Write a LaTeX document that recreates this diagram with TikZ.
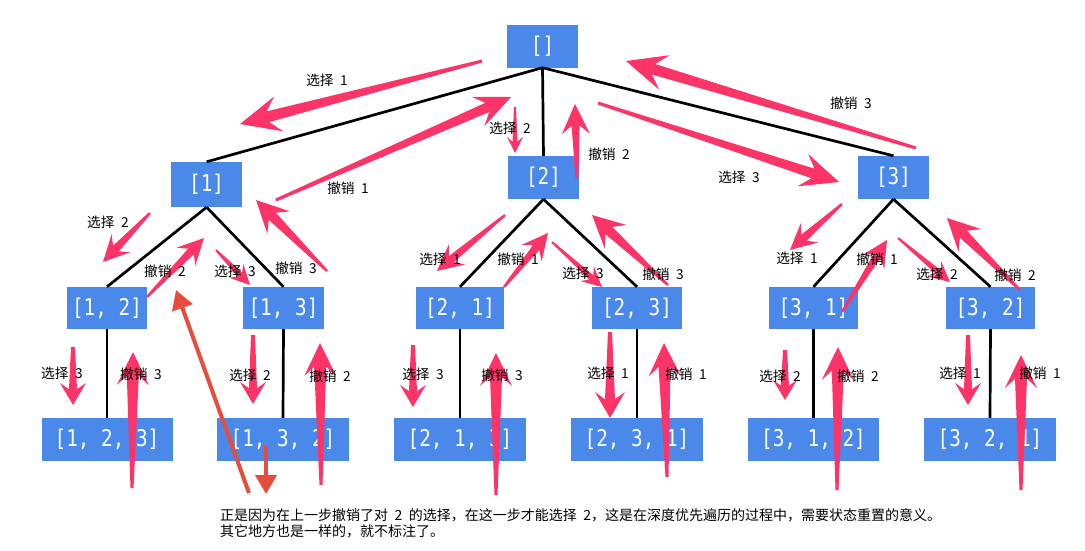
\documentclass[tikz,border=0pt]{standalone}
\usepackage{fontspec}
\setmainfont{Noto Sans CJK SC}
\newfontfamily\boxmono[FakeStretch=0.84]{DejaVu Sans Mono}
\usetikzlibrary{calc,arrows.meta}
\definecolor{boxblue}{RGB}{74,137,234}
\definecolor{skpink}{RGB}{252,52,104}
\definecolor{annred}{RGB}{231,76,60}
% tapered "skitch" arrow: tail, tip, head length, head half width, neck half width, tail half width
\newcommand\skarrow[6]{%
 \fill[skpink] let \p1=(#1), \p2=(#2), \n1={atan2(\y2-\y1,\x2-\x1)}, \n2={veclen(\x2-\x1,\y2-\y1)} in
  ($(\p1)+({\n1+90}:#6)$) --
  ($(\p1)+(\n1:{\n2-0.72*#3})+({\n1+90}:#5)$) --
  ($(\p1)+(\n1:{\n2-#3})+({\n1+90}:#4)$) --
  (\p2) --
  ($(\p1)+(\n1:{\n2-#3})+({\n1-90}:#4)$) --
  ($(\p1)+(\n1:{\n2-0.72*#3})+({\n1-90}:#5)$) --
  ($(\p1)+({\n1-90}:#6)$) -- cycle;}
\tikzset{
 box/.style={fill=boxblue, text=white, font=\boxmono\fontsize{23}{23}\selectfont, minimum height=43pt, inner sep=0pt},
 lab/.style={font=\fontsize{13.7}{13.7}\selectfont, inner sep=0pt},
 edge/.style={line width=2.7pt, black},
 redarrow/.style={annred, line width=4pt, -{Triangle[length=19pt,width=21pt]}},
}
\begin{document}
\begin{tikzpicture}[x=1pt,y=-1pt]
\fill[white] (0,0) rectangle (1085,550);
\useasboundingbox (0,0) rectangle (1085,550);
% nodes
\node[box, minimum width=71pt] (r) at (542.5,46) {[]};
\node[box, minimum width=71pt, minimum height=45pt] (n1) at (206.6,184.5) {[1]};
\node[box, minimum width=71pt] (n2) at (543.5,177.5) {[2]};
\node[box, minimum width=71pt] (n3) at (893.5,177.5) {[3]};
\node[box, minimum width=80pt, minimum height=42pt] (n12) at (107,308) {[1, 2]};
\node[box, minimum width=81pt, minimum height=42pt] (n13) at (283.5,308) {[1, 3]};
\node[box, minimum width=88pt, minimum height=42pt] (n21) at (460,308) {[2, 1]};
\node[box, minimum width=90pt, minimum height=42pt] (n23) at (637,308) {[2, 3]};
\node[box, minimum width=89pt, minimum height=42pt] (n31) at (813.5,308) {[3, 1]};
\node[box, minimum width=89pt, minimum height=42pt] (n32) at (990.5,308) {[3, 2]};
\node[box, minimum width=131pt] (n123) at (107,439.5) {[1, 2, 3]};
\node[box, minimum width=132pt] (n132) at (283,439.5) {[1, 3, 2]};
\node[box, minimum width=132pt] (n213) at (460,439.5) {[2, 1, 3]};
\node[box, minimum width=132pt] (n231) at (637,439.5) {[2, 3, 1]};
\node[box, minimum width=131pt] (n312) at (813.5,439.5) {[3, 1, 2]};
\node[box, minimum width=132pt] (n321) at (990,439.5) {[3, 2, 1]};
% tree edges
\draw[edge] (r.south) -- (n1.north);
\draw[edge] (r.south) -- (n2.north);
\draw[edge] (r.south) -- (n3.north);
\draw[edge] (n1.south) -- (n12.north);
\draw[edge] (n1.south) -- (n13.north);
\draw[edge] (n2.south) -- (n21.north);
\draw[edge] (n2.south) -- (n23.north);
\draw[edge] (n3.south) -- (n31.north);
\draw[edge] (n3.south) -- (n32.north);
\draw[edge] (n12.south) -- (n123.north);
\draw[edge] (n13.south) -- (n132.north);
\draw[edge] (n21.south) -- (n213.north);
\draw[edge] (n23.south) -- (n231.north);
\draw[edge] (n31.south) -- (n312.north);
\draw[edge] (n32.south) -- (n321.north);
% arrow end points
\coordinate (a1t) at (482,61);   \coordinate (a1h) at (240,124);
\coordinate (a2t) at (276,200);  \coordinate (a2h) at (511,97);
\coordinate (a3t) at (515,107);  \coordinate (a3h) at (515,153);
\coordinate (a4t) at (577,178);  \coordinate (a4h) at (575,104);
\coordinate (a5t) at (598,103);  \coordinate (a5h) at (839,182);
\coordinate (a6t) at (916,148);  \coordinate (a6h) at (626,61);
\coordinate (b1t) at (150,213);  \coordinate (b1h) at (103,262);
\coordinate (b2t) at (147,297);  \coordinate (b2h) at (204,238);
\coordinate (b3t) at (216,250);  \coordinate (b3h) at (250,285);
\coordinate (b4t) at (327,271);  \coordinate (b4h) at (256,200);
\coordinate (c1t) at (505,215);  \coordinate (c1h) at (437,271);
\coordinate (c2t) at (504,287);  \coordinate (c2h) at (548,233);
\coordinate (c3t) at (552,242);  \coordinate (c3h) at (602,287);
\coordinate (c4t) at (668,285);  \coordinate (c4h) at (592,215);
\coordinate (d1t) at (842,204);  \coordinate (d1h) at (790,250);
\coordinate (d2t) at (842,312);  \coordinate (d2h) at (887,240);
\coordinate (d3t) at (898,238);  \coordinate (d3h) at (950,282);
\coordinate (d4t) at (1020,290); \coordinate (d4h) at (947,218);
\coordinate (e1t) at (73,347);   \coordinate (e1h) at (73,405);
\coordinate (e2t) at (132,488);  \coordinate (e2h) at (133,352);
\coordinate (e3t) at (253,335);  \coordinate (e3h) at (253,404);
\coordinate (e4t) at (321,485);  \coordinate (e4h) at (320,343);
\coordinate (e5t) at (413,345);  \coordinate (e5h) at (413,407);
\coordinate (e6t) at (496,495);  \coordinate (e6h) at (496,353);
\coordinate (e7t) at (610,332);  \coordinate (e7h) at (610,418);
\coordinate (e8t) at (667,477);  \coordinate (e8h) at (664,343);
\coordinate (e9t) at (785,350);  \coordinate (e9h) at (785,400);
\coordinate (e10t) at (837,490); \coordinate (e10h) at (838,347);
\coordinate (e11t) at (968,335); \coordinate (e11h) at (968,405);
\coordinate (e12t) at (1021,490);\coordinate (e12h) at (1021,355);
\coordinate (r1t) at (249,493);  \coordinate (r1h) at (176,290);
\coordinate (r2t) at (266,446);  \coordinate (r2h) at (266,494);
% top level arrows
\skarrow{a1t}{a1h}{40pt}{18pt}{5.5pt}{1.5pt}
\skarrow{a2t}{a2h}{36pt}{16pt}{5pt}{1.5pt}
\skarrow{a3t}{a3h}{16pt}{8pt}{2.5pt}{1pt}
\skarrow{a4t}{a4h}{30pt}{14pt}{4pt}{1.5pt}
\skarrow{a5t}{a5h}{38pt}{17pt}{5pt}{1.5pt}
\skarrow{a6t}{a6h}{40pt}{18pt}{5.5pt}{1.5pt}
% level 1 -> 2
\skarrow{b1t}{b1h}{26pt}{13pt}{4pt}{1.2pt}
\skarrow{b2t}{b2h}{26pt}{13pt}{4pt}{1.2pt}
\skarrow{b3t}{b3h}{20pt}{10pt}{3pt}{1pt}
\skarrow{b4t}{b4h}{32pt}{16pt}{5pt}{1.2pt}
\skarrow{c1t}{c1h}{26pt}{13pt}{4pt}{1.2pt}
\skarrow{c2t}{c2h}{26pt}{13pt}{4pt}{1.2pt}
\skarrow{c3t}{c3h}{20pt}{10pt}{3pt}{1pt}
\skarrow{c4t}{c4h}{32pt}{16pt}{5pt}{1.2pt}
\skarrow{d1t}{d1h}{26pt}{13pt}{4pt}{1.2pt}
\skarrow{d2t}{d2h}{26pt}{13pt}{4pt}{1.2pt}
\skarrow{d3t}{d3h}{20pt}{10pt}{3pt}{1pt}
\skarrow{d4t}{d4h}{32pt}{16pt}{5pt}{1.2pt}
% level 2 -> 3
\skarrow{e1t}{e1h}{22pt}{13pt}{4pt}{2pt}
\skarrow{e2t}{e2h}{33pt}{16pt}{6pt}{1.5pt}
\skarrow{e3t}{e3h}{22pt}{13pt}{4pt}{2pt}
\skarrow{e4t}{e4h}{33pt}{16pt}{6pt}{1.5pt}
\skarrow{e5t}{e5h}{22pt}{13pt}{4pt}{2pt}
\skarrow{e6t}{e6h}{33pt}{16pt}{6pt}{1.5pt}
\skarrow{e7t}{e7h}{26pt}{15pt}{5pt}{2pt}
\skarrow{e8t}{e8h}{33pt}{16pt}{6pt}{1.5pt}
\skarrow{e9t}{e9h}{20pt}{12pt}{4pt}{2pt}
\skarrow{e10t}{e10h}{33pt}{16pt}{6pt}{1.5pt}
\skarrow{e11t}{e11h}{22pt}{13pt}{4pt}{2pt}
\skarrow{e12t}{e12h}{33pt}{16pt}{6pt}{1.5pt}
% red annotation arrows
\draw[redarrow] (r1t) -- (r1h);
\draw[redarrow] (r2t) -- (r2h);
% labels
\node[lab] (l1) at (327,80) {选择\hspace{6.5pt}1};
\node[lab] (l2) at (348,188) {撤销\hspace{6.5pt}1};
\node[lab] (l3) at (510,128) {选择\hspace{6.5pt}2};
\node[lab] (l4) at (609,154) {撤销\hspace{6.5pt}2};
\node[lab] (l5) at (739,177) {选择\hspace{6.5pt}3};
\node[lab] (l6) at (851,103) {撤销\hspace{6.5pt}3};
\node[lab] (l7) at (108,222) {选择\hspace{6.5pt}2};
\node[lab] (l8) at (165,271) {撤销\hspace{6.5pt}2};
\node[lab] (l9) at (235,271) {选择\hspace{6.5pt}3};
\node[lab] (l10) at (296,268) {撤销\hspace{6.5pt}3};
\node[lab] (l11) at (440,259) {选择\hspace{6.5pt}1};
\node[lab] (l12) at (518,259) {撤销\hspace{6.5pt}1};
\node[lab] (l13) at (583,273) {选择\hspace{6.5pt}3};
\node[lab] (l14) at (663,274) {撤销\hspace{6.5pt}3};
\node[lab] (l15) at (797,258) {选择\hspace{6.5pt}1};
\node[lab] (l16) at (877,259) {撤销\hspace{6.5pt}1};
\node[lab] (l17) at (937,274) {选择\hspace{6.5pt}2};
\node[lab] (l18) at (1015,275) {撤销\hspace{6.5pt}2};
\node[lab] (l19) at (62,373) {选择\hspace{6.5pt}3};
\node[lab] (l20) at (141,374) {撤销\hspace{6.5pt}3};
\node[lab] (l21) at (250,375) {选择\hspace{6.5pt}2};
\node[lab] (l22) at (330,376) {撤销\hspace{6.5pt}2};
\node[lab] (l23) at (423,374) {选择\hspace{6.5pt}3};
\node[lab] (l24) at (502,375) {撤销\hspace{6.5pt}3};
\node[lab] (l25) at (608,373) {选择\hspace{6.5pt}1};
\node[lab] (l26) at (686,374) {撤销\hspace{6.5pt}1};
\node[lab] (l27) at (780,376) {选择\hspace{6.5pt}2};
\node[lab] (l28) at (858,376) {撤销\hspace{6.5pt}2};
\node[lab] (l29) at (960,373) {选择\hspace{6.5pt}1};
\node[lab] (l30) at (1040,373) {撤销\hspace{6.5pt}1};
% note
\node[lab, anchor=north west, align=left, font=\fontsize{14}{16}\selectfont] (note) at (220,508)
 {正是因为在上一步撤销了对\hspace{6.5pt}2\hspace{6.5pt}的选择，在这一步才能选择\hspace{6.5pt}2，这是在深度优先遍历的过程中，需要状态重置的意义。\\
  其它地方也是一样的，就不标注了。};
\end{tikzpicture}
\end{document}
